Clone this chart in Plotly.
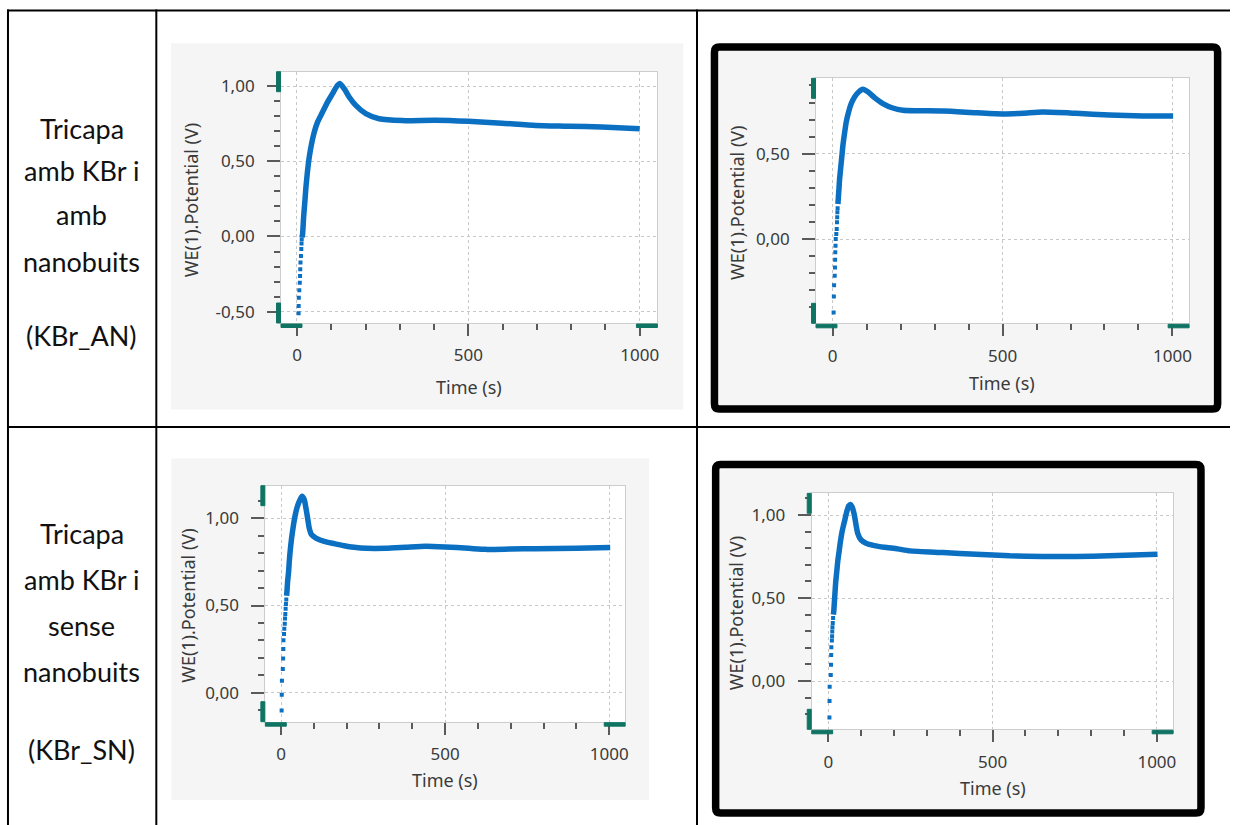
import plotly.graph_objects as go

# ---------------------------------------------------------------------------
# Open-circuit potential vs time, four measurements (WE(1).Potential, V)
# "dots" = the sparse first samples of the fast rise, "t"/"v" = the rest
# ---------------------------------------------------------------------------

# KBr_AN, left chart
an1_dots_t = [4.7, 4.9, 5.3, 6.7, 8.2, 9.0, 9.6, 10.2, 11.6, 12.6, 13.3, 13.8]
an1_dots_v = [-0.511, -0.462, -0.407, -0.357, -0.307, -0.262, -0.218, -0.173,
              -0.129, -0.084, -0.047, -0.018]
an1_t = [14.8, 16.4, 19.3, 23.2, 26.1, 30.9, 35.8, 42.6, 50.3, 60.0, 74.6, 89.1,
         103.7, 118.2, 125.0, 137.7, 152.2, 171.6, 200.7, 239.5, 307, 404, 500,
         598, 696, 793, 889, 1000]
an1_v = [-0.005, 0.016, 0.127, 0.238, 0.327, 0.438, 0.527, 0.616, 0.693, 0.760,
         0.827, 0.893, 0.949, 1.005, 1.016, 0.982, 0.927, 0.871, 0.816, 0.782,
         0.770, 0.772, 0.765, 0.753, 0.738, 0.733, 0.727, 0.716]

# KBr_AN, right chart
an2_dots_t = [2.8, 3.5, 4.2, 6.0, 6.8, 7.2, 7.7, 8.4, 9.0, 10.7, 12.0, 12.8, 13.4, 13.9, 14.6]
an2_dots_v = [-0.431, -0.337, -0.271, -0.216, -0.167, -0.122, -0.078, -0.039,
              0.000, 0.029, 0.059, 0.098, 0.127, 0.157, 0.180]
an2_t = [15.5, 16.5, 18.5, 20.5, 23.4, 27.3, 30.2, 34.1, 40.0, 46.9, 54.7, 64.5,
         77.2, 89.0, 103.6, 123.2, 147.7, 177.0, 206.4, 250, 325, 423, 501, 560,
         618, 716, 814, 912, 1002]
an2_v = [0.205, 0.235, 0.294, 0.353, 0.412, 0.490, 0.549, 0.608, 0.686, 0.745,
         0.794, 0.833, 0.863, 0.878, 0.863, 0.829, 0.794, 0.768, 0.755, 0.752,
         0.750, 0.740, 0.733, 0.737, 0.744, 0.737, 0.727, 0.721, 0.721]

# KBr_SN, left chart
sn1_dots_t = [1.9, 2.3, 2.8, 5.5, 6.5, 7.0, 7.4, 9.2, 10.0, 11.4, 12.1, 13.1, 14.1, 15.1, 16.1]
sn1_dots_v = [-0.102, -0.011, 0.069, 0.136, 0.196, 0.251, 0.301, 0.337, 0.367,
              0.396, 0.425, 0.452, 0.482, 0.509, 0.534]
sn1_t = [17.0, 18.1, 20.2, 23.2, 25.2, 28.3, 32.3, 37.4, 42.5, 48.5, 55.6, 63.7,
         70.8, 75.9, 81.0, 86.0, 93.1, 106.3, 131.6, 162.0, 192.4, 222.8, 260,
         319, 380, 441, 500, 572, 623, 700, 775, 900, 1003]
sn1_v = [0.556, 0.581, 0.639, 0.696, 0.753, 0.820, 0.887, 0.954, 1.011, 1.059,
         1.097, 1.126, 1.107, 1.059, 1.002, 0.944, 0.906, 0.887, 0.868, 0.855,
         0.843, 0.834, 0.828, 0.828, 0.834, 0.840, 0.836, 0.828, 0.822, 0.824,
         0.826, 0.828, 0.832]

# KBr_SN, right chart
sn2_dots_t = [3.5, 3.8, 4.2, 7.6, 8.3, 8.8, 9.3, 11.0, 11.6, 12.1, 12.7, 13.7, 14.7]
sn2_dots_v = [-0.220, -0.120, -0.034, 0.036, 0.098, 0.156, 0.204, 0.244, 0.270,
              0.298, 0.324, 0.350, 0.380]
sn2_t = [15.6, 16.7, 18.7, 20.7, 22.8, 25.8, 28.8, 32.9, 36.9, 42.0, 49.1, 56.2,
         62.2, 67.3, 72.3, 79.4, 84.5, 89.6, 99.7, 114.8, 140.2, 170.5, 211.0,
         248, 349, 450, 552, 653, 754, 855, 1002]
sn2_v = [0.400, 0.420, 0.480, 0.540, 0.600, 0.660, 0.720, 0.780, 0.840, 0.900,
         0.960, 1.020, 1.056, 1.064, 1.050, 1.000, 0.940, 0.890, 0.850, 0.830,
         0.816, 0.806, 0.796, 0.784, 0.774, 0.764, 0.754, 0.750, 0.750, 0.754,
         0.764]

# axis ticks
x_ticks = [0, 500, 1000]
an1_yticks = [-0.5, 0.0, 0.5, 1.0]
an2_yticks = [0.0, 0.5]
sn1_yticks = [0.0, 0.5, 1.0]
sn2_yticks = [0.0, 0.5, 1.0]

# row captions of the table
row_an_lines = ["Tricapa", "amb KBr i", "amb", "nanobuits", "(KBr_AN)"]
row_sn_lines = ["Tricapa", "amb KBr i", "sense", "nanobuits", "(KBr_SN)"]

x_title = "Time (s)"
y_title = "WE(1).Potential (V)"

# ---------------------------------------------------------------------------
W, H = 1233, 825
BLUE = "#0b6fc2"
TEAL = "#0f7463"
GREY_BG = "#f5f5f5"
FONT = "Noto Sans"
TXT = "#3a3a3a"


def fx(x):
    return x / W


def fy(y):
    return 1 - y / H


def fmt(v):
    return f"{v:.2f}".replace(".", ",")


# plot-area pixel boxes (left, top, right, bottom) and axis ranges
panels = [
    dict(box=(281.7, 71.7, 659.0, 323.0), xr=(-46.6, 1051.5), yr=(-0.575, 1.095),
         dots=(an1_dots_t, an1_dots_v), line=(an1_t, an1_v), yt=an1_yticks,
         ytitle=(191.7, 200.0), xtitle=(470.0, 386.7)),
    dict(box=(818.0, 78.3, 1192.0, 323.3), xr=(-49.0, 1049.0), yr=(-0.494, 0.942),
         dots=(an2_dots_t, an2_dots_v), line=(an2_t, an2_v), yt=an2_yticks,
         ytitle=(738.7, 203.0), xtitle=(1004.7, 383.3)),
    dict(box=(266.0, 485.7, 626.7, 721.7), xr=(-47.7, 1048.6), yr=(-0.166, 1.187),
         dots=(sn1_dots_t, sn1_dots_v), line=(sn1_t, sn1_v), yt=sn1_yticks,
         ytitle=(188.3, 606.0), xtitle=(446.0, 780.0)),
    dict(box=(813.7, 493.3, 1176.0, 729.3), xr=(-50.4, 1049.5), yr=(-0.291, 1.131),
         dots=(sn2_dots_t, sn2_dots_v), line=(sn2_t, sn2_v), yt=sn2_yticks,
         ytitle=(738.0, 613.0), xtitle=(995.0, 788.3)),
]

fig = go.Figure()
shapes = []
annotations = []
layout_axes = {}

# ---- table grid -----------------------------------------------------------
TL = dict(color="black", width=2)
shapes += [
    dict(type="line", xref="paper", yref="paper", x0=fx(7), x1=1.0, y0=fy(10.5), y1=fy(10.5), line=TL),
    dict(type="line", xref="paper", yref="paper", x0=fx(7), x1=1.0, y0=fy(427), y1=fy(427), line=TL),
    dict(type="line", xref="paper", yref="paper", x0=fx(8), x1=fx(8), y0=fy(9.5), y1=0, line=TL),
    dict(type="line", xref="paper", yref="paper", x0=fx(156.7), x1=fx(156.7), y0=fy(9.5), y1=0, line=TL),
    dict(type="line", xref="paper", yref="paper", x0=fx(698.7), x1=fx(698.7), y0=fy(9.5), y1=0, line=TL),
]

# ---- grey image backgrounds ----------------------------------------------
for (x0, y0, x1, y1) in [(171.5, 43.3, 685.0, 409.5), (171.7, 458.5, 650.7, 800.0)]:
    shapes.append(dict(type="rect", xref="paper", yref="paper", layer="below",
                       x0=fx(x0), x1=fx(x1), y0=fy(y1), y1=fy(y0),
                       fillcolor=GREY_BG, line=dict(width=0)))


def rounded_box(x0, y0, x1, y1, r):
    pts = [
        f"M {fx(x0 + r)},{fy(y0)}",
        f"L {fx(x1 - r)},{fy(y0)}",
        f"Q {fx(x1)},{fy(y0)} {fx(x1)},{fy(y0 + r)}",
        f"L {fx(x1)},{fy(y1 - r)}",
        f"Q {fx(x1)},{fy(y1)} {fx(x1 - r)},{fy(y1)}",
        f"L {fx(x0 + r)},{fy(y1)}",
        f"Q {fx(x0)},{fy(y1)} {fx(x0)},{fy(y1 - r)}",
        f"L {fx(x0)},{fy(y0 + r)}",
        f"Q {fx(x0)},{fy(y0)} {fx(x0 + r)},{fy(y0)}",
        "Z",
    ]
    return " ".join(pts)


for (x0, y0, x1, y1) in [(716.2, 47.0, 1220.6, 408.9), (717.4, 464.4, 1203.9, 812.9)]:
    shapes.append(dict(type="path", xref="paper", yref="paper", layer="below",
                       path=rounded_box(x0, y0, x1, y1, 5),
                       fillcolor=GREY_BG, line=dict(color="black", width=7.5)))

# ---- the four charts -----------------------------------------------------
for i, p in enumerate(panels):
    n = "" if i == 0 else str(i + 1)
    L, T, R, B = p["box"]
    xa, ya = f"xaxis{n}", f"yaxis{n}"

    # plot area
    shapes.append(dict(type="rect", xref="paper", yref="paper", layer="below",
                       x0=fx(L), x1=fx(R), y0=fy(B), y1=fy(T),
                       fillcolor="white", line=dict(width=0)))

    tickfont = dict(family=FONT, size=17, color=TXT)
    layout_axes[xa] = dict(
        domain=[fx(L), fx(R)], anchor=f"y{n}", range=list(p["xr"]),
        tickmode="array", tickvals=x_ticks, ticktext=[str(v) for v in x_ticks],
        ticks="outside", ticklen=12, tickwidth=1.5, tickcolor="#5a5a5a",
        ticklabelstandoff=5, tickfont=tickfont,
        minor=dict(dtick=100, tick0=0, ticks="outside", ticklen=6,
                   tickwidth=1.5, tickcolor="#5a5a5a", showgrid=False),
        showgrid=True, gridcolor="#c8c8c8", griddash="dot", gridwidth=1,
        zeroline=False, showline=True, linecolor="#cdcdcd", linewidth=1,
        mirror=True, fixedrange=True,
    )
    layout_axes[ya] = dict(
        domain=[fy(B), fy(T)], anchor=f"x{n}", range=list(p["yr"]),
        tickmode="array", tickvals=p["yt"], ticktext=[fmt(v) for v in p["yt"]],
        ticks="outside", ticklen=13, tickwidth=1.5, tickcolor="#5a5a5a",
        ticklabelstandoff=9, tickfont=tickfont,
        minor=dict(dtick=0.1, tick0=0, ticks="outside", ticklen=6,
                   tickwidth=1.5, tickcolor="#5a5a5a", showgrid=False),
        showgrid=True, gridcolor="#c8c8c8", griddash="dot", gridwidth=1,
        zeroline=False, showline=True, linecolor="#cdcdcd", linewidth=1,
        mirror=True, fixedrange=True,
    )

    # teal range handles on the axes' ends
    hl = dict(color=TEAL, width=1)
    for (y0, y1) in [(T, T + 20), (B - 20, B)]:
        shapes.append(dict(type="rect", xref="paper", yref="paper",
                           x0=fx(L - 4.5), x1=fx(L - 0.5), y0=fy(y1), y1=fy(y0),
                           fillcolor=TEAL, line=hl))
    for (x0, x1) in [(L, L + 21), (R - 21, R)]:
        shapes.append(dict(type="rect", xref="paper", yref="paper",
                           x0=fx(x0), x1=fx(x1), y0=fy(B + 4.5), y1=fy(B + 1),
                           fillcolor=TEAL, line=hl))

    # curve
    fig.add_trace(go.Scatter(
        x=p["line"][0], y=p["line"][1], mode="lines",
        line=dict(color=BLUE, width=5.5, shape="spline", smoothing=0.6),
        xaxis=f"x{n}", yaxis=f"y{n}", showlegend=False, hoverinfo="skip"))
    fig.add_trace(go.Scatter(
        x=p["dots"][0], y=p["dots"][1], mode="markers",
        marker=dict(color=BLUE, size=4, symbol="square", line=dict(width=0)),
        xaxis=f"x{n}", yaxis=f"y{n}", showlegend=False, hoverinfo="skip"))

    # axis titles
    tx, ty = p["ytitle"]
    annotations.append(dict(text=y_title, xref="paper", yref="paper",
                            x=fx(tx), y=fy(ty), showarrow=False, textangle=-90,
                            xanchor="center", yanchor="middle",
                            font=dict(family=FONT, size=18, color=TXT)))
    tx, ty = p["xtitle"]
    annotations.append(dict(text=x_title, xref="paper", yref="paper",
                            x=fx(tx), y=fy(ty), showarrow=False,
                            xanchor="center", yanchor="middle",
                            font=dict(family=FONT, size=18, color=TXT)))

# ---- row captions --------------------------------------------------------
for lines, ys in [(row_an_lines, [128, 170, 214, 261, 336]),
                  (row_sn_lines, [533, 579, 625, 671, 749])]:
    for txt, yc in zip(lines, ys):
        annotations.append(dict(text=txt, xref="paper", yref="paper",
                                x=fx(82), y=fy(yc), showarrow=False,
                                xanchor="center", yanchor="middle",
                                font=dict(family="Lato", size=27, color="#111111")))

fig.update_layout(
    width=W, height=H, margin=dict(l=0, r=0, t=0, b=0),
    paper_bgcolor="white", plot_bgcolor="rgba(0,0,0,0)",
    showlegend=False, shapes=shapes, annotations=annotations,
    **layout_axes,
)

fig.write_html("out.html")
